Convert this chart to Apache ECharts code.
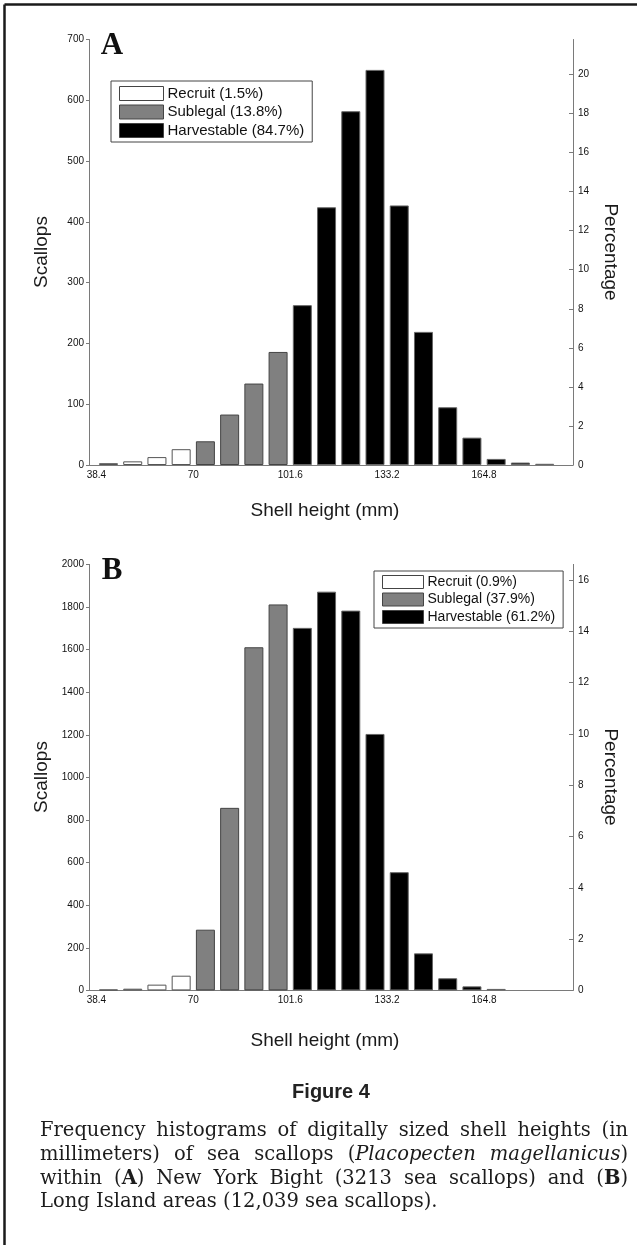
<!DOCTYPE html>
<html>
<head>
<meta charset="utf-8">
<script src="https://cdn.jsdelivr.net/npm/echarts@6/dist/echarts.min.js"></script>
<style>
  html, body { margin: 0; padding: 0; background: #fff; }
  /* fixed size, same as the reference */
  #chart { width: 637px; height: 1245px; }
</style>
</head>
<body>
<div id="chart"></div>
<script>
// bins of shell height (mm), left edges, width 7.9
const binStart = [38.4, 46.3, 54.2, 62.1, 70, 77.9, 85.8, 93.7, 101.6, 109.5,
                  117.4, 125.3, 133.2, 141.1, 149, 156.9, 164.8, 172.7, 180.6];
const binWidth = 7.9;
const xTicks = [38.4, 70, 101.6, 133.2, 164.8];

// panel A - New York Bight (3213 scallops)
const totalA = 3213;
const recruitA = [3, 6, 13, 26];                 // bins 0-3
const sublegalA = [39, 83, 134, 186];            // bins 4-7
const harvestA = [263, 424, 582, 650, 427, 219, 95, 45, 10, 4, 2]; // bins 8-18
const countTicksA = 100;
const pctTicksA = [0, 2, 4, 6, 8, 10, 12, 14, 16, 18, 20];

// panel B - Long Island (12,039 scallops)
const totalB = 12039;
const recruitB = [4, 8, 27, 69];
const sublegalB = [285, 857, 1611, 1812];
const harvestB = [1702, 1872, 1783, 1204, 555, 174, 57, 19, 7];
const countTicksB = 200;
const pctTicksB = [0, 2, 4, 6, 8, 10, 12, 14, 16];

const legendA = ['Recruit (1.5%)', 'Sublegal (13.8%)', 'Harvestable (84.7%)'];
const legendB = ['Recruit (0.9%)', 'Sublegal (37.9%)', 'Harvestable (61.2%)'];

const captionLines = [
  'Frequency histograms of digitally sized shell heights (in',
  'millimeters) of sea scallops (_Placopecten_ _magellanicus_)',
  'within (^A^) New York Bight (3213 sea scallops) and (^B^)',
  'Long Island areas (12,039 sea scallops).'
];

const SANS = 'Liberation Sans, Arial, Helvetica, sans-serif';
const SERIF = 'DejaVu Serif, serif';

// turn counts into [x, y] pairs at bin centres
function toPairs(vals, firstBin) {
  return vals.map((v, i) => [binStart[firstBin + i] + binWidth / 2, v]);
}

function barSeries(name, vals, firstBin, fill, border, idx) {
  return {
    name: name,
    type: 'bar',
    xAxisIndex: idx,
    yAxisIndex: idx * 2,
    data: toPairs(vals, firstBin),
    barWidth: 19,
    barGap: '-100%',
    itemStyle: { color: fill, borderColor: border, borderWidth: 1 },
    emphasis: { disabled: true },
    silent: true
  };
}

function xAxis(idx) {
  return {
    type: 'value', gridIndex: idx, min: 36, max: 193.8,
    axisLine: { show: true, lineStyle: { color: '#7a7a7a', width: 1 } },
    axisTick: { show: false },
    splitLine: { show: false },
    axisLabel: {
      customValues: xTicks, formatter: v => String(v),
      color: '#111', fontSize: 10, fontFamily: SANS, margin: 5
    }
  };
}

function countAxis(idx, max, interval) {
  return {
    type: 'value', gridIndex: idx, position: 'left', min: 0, max: max, interval: interval,
    axisLine: { show: true, lineStyle: { color: '#7a7a7a', width: 1 } },
    axisTick: { show: true, length: 3, lineStyle: { color: '#7a7a7a' } },
    splitLine: { show: false },
    axisLabel: { color: '#111', fontSize: 10, fontFamily: SANS, margin: 5, formatter: v => String(v) }
  };
}

function pctAxis(idx, max, ticks) {
  return {
    type: 'value', gridIndex: idx, position: 'right', min: 0, max: max,
    axisLine: { show: true, onZero: false, lineStyle: { color: '#7a7a7a', width: 1 } },
    axisTick: { show: true, inside: true, length: 4, customValues: ticks, lineStyle: { color: '#7a7a7a' } },
    splitLine: { show: false },
    axisLabel: { customValues: ticks, color: '#111', fontSize: 10, fontFamily: SANS, margin: 5, formatter: v => String(v) }
  };
}

function legend(names, left, top, fs, iw, ih, pad) {
  return {
    data: names, orient: 'vertical', left: left, top: top,
    itemWidth: iw, itemHeight: ih, itemGap: 3.5, icon: 'rect',
    padding: pad, borderColor: '#444', borderWidth: 1, borderRadius: 0,
    backgroundColor: '#fff', selectedMode: false,
    itemStyle: { borderColor: '#444', borderWidth: 1 },
    textStyle: { color: '#111', fontSize: fs, lineHeight: fs, fontFamily: SANS, padding: [0, 0, 0, -1] }
  };
}

function label(text, x, y, opts) {
  return {
    type: 'text', x: x, y: y, rotation: opts.rot || 0, silent: true,
    style: {
      text: text, fill: opts.fill || '#1a1a1a', fontSize: opts.size,
      fontFamily: opts.family || SANS, fontWeight: opts.weight || 'normal',
      align: 'center', verticalAlign: 'middle'
    }
  };
}

// justified caption, words placed with measured widths
const measureCtx = document.createElement('canvas').getContext('2d');
function runsOf(word) {
  const runs = []; let cur = '', it = false, bd = false;
  for (const ch of word) {
    if (ch === '_' || ch === '^') {
      if (cur) runs.push({ t: cur, it: it, bd: bd });
      cur = '';
      if (ch === '_') it = !it; else bd = !bd;
    } else cur += ch;
  }
  if (cur) runs.push({ t: cur, it: it, bd: bd });
  return runs;
}
function fontOf(r, size) {
  return (r.it ? 'italic ' : '') + (r.bd ? 'bold ' : '') + size + 'px ' + SERIF;
}
function captionGraphics(lines, x0, x1, y0, lh, size) {
  const out = [];
  lines.forEach((line, li) => {
    const words = line.split(' ').map(w => {
      const runs = runsOf(w);
      runs.forEach(r => { measureCtx.font = fontOf(r, size); r.w = measureCtx.measureText(r.t).width; });
      return { runs: runs, w: runs.reduce((s, r) => s + r.w, 0) };
    });
    measureCtx.font = size + 'px ' + SERIF;
    let gap = measureCtx.measureText(' ').width;
    if (li < lines.length - 1) {
      const sum = words.reduce((s, w) => s + w.w, 0);
      gap = (x1 - x0 - sum) / (words.length - 1);
    }
    let x = x0;
    const y = y0 + li * lh;
    words.forEach(w => {
      w.runs.forEach(r => {
        out.push({
          type: 'text', x: x, y: y, silent: true,
          style: {
            text: r.t, fill: '#1c1c1c', fontSize: size, fontFamily: SERIF,
            fontStyle: r.it ? 'italic' : 'normal', fontWeight: r.bd ? 'bold' : 'normal',
            align: 'left', verticalAlign: 'middle'
          }
        });
        x += r.w;
      });
      x += gap;
    });
  });
  return out;
}

const chart = echarts.init(document.getElementById('chart'), null, { renderer: 'canvas' });

const option = {
  backgroundColor: '#fff',
  animation: false,
  grid: [
    { left: 89, top: 39.5, width: 484, height: 425.5 },
    { left: 89, top: 564.4, width: 484, height: 426 }
  ],
  xAxis: [xAxis(0), xAxis(1)],
  yAxis: [
    countAxis(0, 700, countTicksA),
    pctAxis(0, 700 * 100 / totalA, pctTicksA),
    countAxis(1, 2000, countTicksB),
    pctAxis(1, 2000 * 100 / totalB, pctTicksB)
  ],
  legend: [
    legend(legendA, 111, 81, 15, 44, 14, [5, 8, 4, 8]),
    legend(legendB, 374, 571, 14, 41, 13, [4, 8, 4, 8])
  ],
  series: [
    barSeries(legendA[0], recruitA, 0, '#ffffff', '#555', 0),
    barSeries(legendA[1], sublegalA, 4, '#808080', '#444', 0),
    barSeries(legendA[2], harvestA, 8, '#000000', '#666', 0),
    barSeries(legendB[0], recruitB, 0, '#ffffff', '#555', 1),
    barSeries(legendB[1], sublegalB, 4, '#808080', '#444', 1),
    barSeries(legendB[2], harvestB, 8, '#000000', '#666', 1)
  ],
  graphic: [
    // frame
    { type: 'line', silent: true, shape: { x1: 4.5, y1: 4.5, x2: 637, y2: 4.5 }, style: { stroke: '#1a1a1a', lineWidth: 2.5 } },
    { type: 'line', silent: true, shape: { x1: 4.5, y1: 4.5, x2: 4.5, y2: 1245 }, style: { stroke: '#1a1a1a', lineWidth: 2.5 } },
    // panel letters
    label('A', 112, 46, { size: 31, family: 'Liberation Serif, serif', weight: 'bold', fill: '#111' }),
    label('B', 112, 571, { size: 31, family: 'Liberation Serif, serif', weight: 'bold', fill: '#111' }),
    // axis titles
    label('Scallops', 42, 252, { size: 19, rot: Math.PI / 2 }),
    label('Percentage', 610, 252, { size: 19, rot: -Math.PI / 2 }),
    label('Shell height (mm)', 325, 511, { size: 19 }),
    label('Scallops', 42, 777, { size: 19, rot: Math.PI / 2 }),
    label('Percentage', 610, 777, { size: 19, rot: -Math.PI / 2 }),
    label('Shell height (mm)', 325, 1041, { size: 19 }),
    // caption
    label('Figure 4', 331, 1092, { size: 20, family: 'Liberation Sans Narrow, Liberation Sans, sans-serif', weight: 'bold', fill: '#222' })
  ].concat(captionGraphics(captionLines, 40, 628, 1131, 23.8, 19.5))
};

chart.setOption(option);
</script>
</body>
</html>
